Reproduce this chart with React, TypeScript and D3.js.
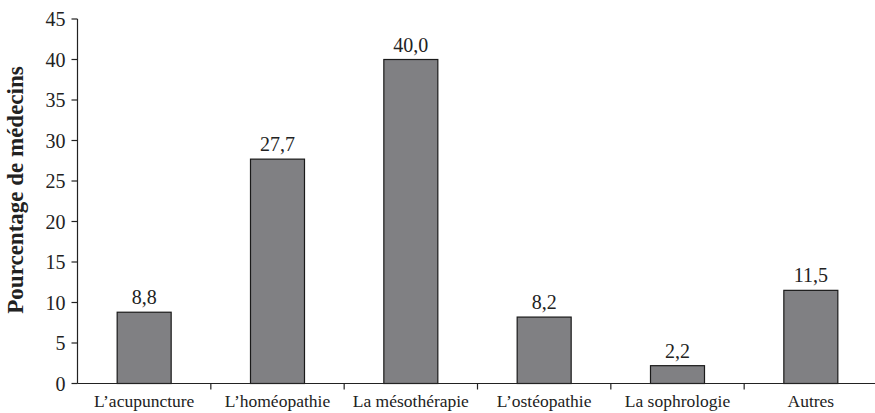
import React from "react";
import * as d3 from "d3";

const categories = ["L\u2019acupuncture", "L\u2019homéopathie", "La mésothérapie", "L\u2019ostéopathie", "La sophrologie", "Autres"];
const values = [8.8, 27.7, 40.0, 8.2, 2.2, 11.5];
const valueLabels = ["8,8", "27,7", "40,0", "8,2", "2,2", "11,5"];
const yTicks = [0, 5, 10, 15, 20, 25, 30, 35, 40, 45];
const yTitle = "Pourcentage de médecins";

export default function App() {
  const W = 875, H = 413;
  const left = 77.5, right = 877.5, top = 19, bottom = 383.5;
  const band = d3.scaleBand<string>().domain(categories).range([left, right]).padding(0);
  const y = d3.scaleLinear().domain([0, 45]).range([bottom, top]);
  const font = "Liberation Serif, Times New Roman, Times, serif";
  const boundaries = categories.map((c) => (band(c) as number) + band.bandwidth());
  return (
    <svg width={W} height={H} style={{ position: "absolute", left: 0, top: 0, background: "#fff", fontFamily: font }}>
      <rect width={W} height={H} fill="#fff" />
      {categories.map((c, i) => {
        const cx = (band(c) as number) + band.bandwidth() / 2;
        const bw = 54;
        return (
          <g key={c}>
            <rect x={cx - bw / 2} y={y(values[i])} width={bw} height={bottom - y(values[i])} fill="#808083" stroke="#1a1a1a" strokeWidth={1.2} />
            <text x={cx} y={y(values[i]) - 8} textAnchor="middle" style={{ fontFamily: font, fontSize: 20 }} fill="#222">{valueLabels[i]}</text>
            <text x={cx} y={407} textAnchor="middle" style={{ fontFamily: font, fontSize: 17.5 }} fill="#222">{c}</text>
          </g>
        );
      })}
      <line x1={left} x2={left} y1={top} y2={bottom} stroke="#222" strokeWidth={1.2} />
      <line x1={left} x2={W} y1={bottom} y2={bottom} stroke="#222" strokeWidth={1.2} />
      {yTicks.map((t) => (
        <g key={t}>
          <line x1={left - 6} x2={left} y1={y(t)} y2={y(t)} stroke="#222" strokeWidth={1.2} />
          <text x={left - 12} y={y(t)} dy="0.35em" textAnchor="end" style={{ fontFamily: font, fontSize: 20 }} fill="#222">{t}</text>
        </g>
      ))}
      {boundaries.slice(0, -1).map((b, i) => (
        <line key={i} x1={b} x2={b} y1={bottom} y2={bottom + 6} stroke="#222" strokeWidth={1.2} />
      ))}
      <text transform={`translate(23,190) rotate(-90)`} textAnchor="middle" style={{ fontFamily: font, fontSize: 23, fontWeight: "bold" }} fill="#222">{yTitle}</text>
    </svg>
  );
}
